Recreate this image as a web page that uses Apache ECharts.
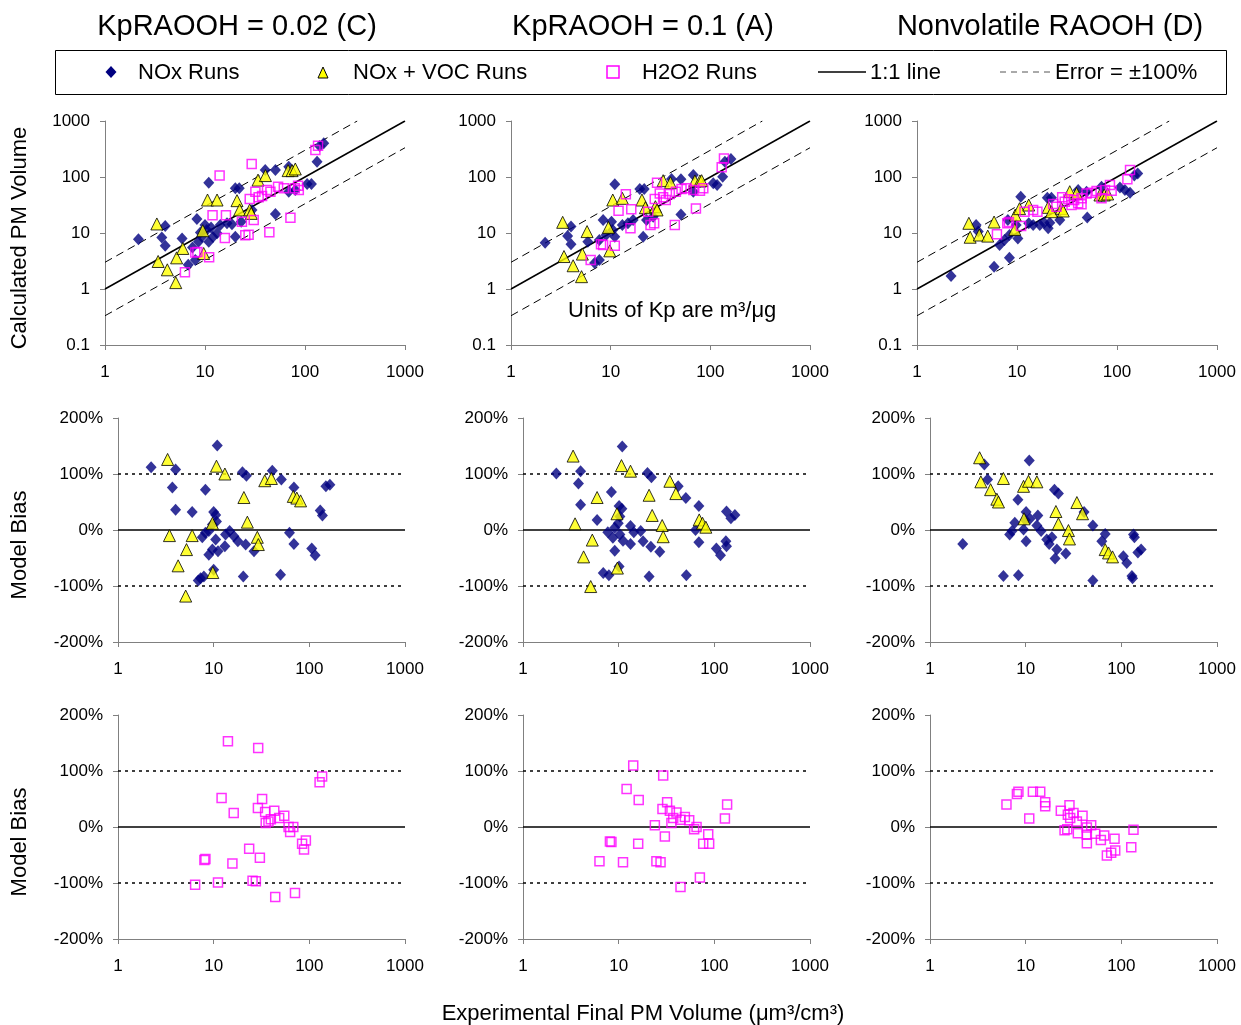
<!DOCTYPE html>
<html>
<head>
<meta charset="utf-8">
<script src="https://cdn.jsdelivr.net/npm/echarts@6/dist/echarts.min.js"></script>
<style>
  html, body { margin: 0; padding: 0; background: #fff; }
  #main { width: 1241px; height: 1025px; }
</style>
</head>
<body>
<div id="main"></div>
<script>
// column headings and axis ticks
var colTitles = ['KpRAOOH = 0.02 (C)', 'KpRAOOH = 0.1 (A)', 'Nonvolatile RAOOH (D)'];
var xTicks = [1, 10, 100, 1000];
var pmTicks = [0.1, 1, 10, 100, 1000];
var biasTicks = [-200, -100, 0, 100, 200];

// reference lines
var oneToOne = [[1, 1], [1000, 1000]];
var errHigh = [[1, 3], [333, 1000]];
var errLow = [[1, 0.333], [1000, 333]];
var biasZero = [[1, 0], [1000, 0]];
var biasHigh = [[1, 100], [1000, 100]];
var biasLow = [[1, -100], [1000, -100]];

// ---- KpRAOOH = 0.02 (C) ----  [experimental, calculated]
var noxC = [[2.16,7.7],[3.7,8.3],[4.0,13.3],[4.0,5.9],[5.9,8.0],[8.3,17.8],[10.9,79],[10,13.9],[6.8,2.7],[8.0,3.3],
  [8.6,7.0],[9.3,8.6],[10.4,11.3],[10.9,7.0],[13.2,9.9],[14.2,13.9],[16.6,14.9],[18.6,14.3],[20.1,8.6],[20.1,62.8],
  [22,62.8],[23,15.9],[29.5,25.7],[40,133],[50.6,133],[50.6,21.8],[68.8,153],[68.8,54.7],[80,58.6],[105,75],
  [116,75],[132,188],[154,399],[140,358],[7.5,5.5],[9.0,10.2],[11.5,12.5],[12,8.5]];
var vocC = [[3.3,14.5],[3.4,3.1],[4.2,2.2],[5.1,1.3],[5.2,3.6],[6.0,5.3],[9.7,4.3],[9.5,11.0],[10.6,38.8],[13.2,38.8],
  [20.9,37.8],[22.2,25.8],[28,25.8],[29,22.4],[33.9,88],[40.2,106],[67.8,130],[74.3,130],[80,139]];
var h2o2C = [[6.3,2.0],[8.0,4.5],[8.4,4.6],[11.0,3.7],[11.9,20.7],[14,106],[15.8,8.1],[16.2,20.7],[23.4,15.9],[25.3,9.1],
  [27.3,9.3],[28,40.5],[29.3,171],[30.7,17.1],[31.9,54.7],[34.4,43.4],[37.2,45.8],[41.7,58.6],[45.1,54.7],[44,10.3],
  [53.8,67.2],[61.4,62.8],[71.5,18.8],[79,62.8],[86.7,58.6],[85.3,70],[127,303],[135,363]];
// [experimental, bias %]
var biasNoxC = [[2.22,112],[4.0,108],[3.7,76],[4.0,36],[5.96,32],[8.2,72],[10.9,151],[10.0,32],[10.5,27],[10.7,15],
  [9.7,10],[8.9,-2],[8.2,-5],[7.6,-13],[10.5,-17],[8.9,-44],[9.7,-35],[11.1,-38],[13.1,-29],[13.3,-8],
  [14.7,-2],[16.3,-11],[17.9,-20],[21.6,-26],[26.4,-38],[20,103],[22,97],[20.4,-83],[10,-71],[7.9,-83],
  [6.9,-90],[7.3,-86],[41,106],[51,90],[69,76],[62,-5],[69,-25],[50,-80],[106,-33],[115,-45],
  [130,35],[137,26],[149,78],[164,81]];
var biasVocC = [[3.3,126],[3.45,-10],[4.25,-64],[5.1,-118],[5.2,-35],[5.96,-10],[9.7,12],[9.8,-76],[10.7,114],[13.1,100],
  [20.7,58],[22.5,14],[28.6,-13],[29.3,-26],[34.2,88],[40.1,92],[68,60],[74,57],[81,52]];
var biasH2o2C = [[14.1,153],[29.2,141],[136,90],[128,80],[12.1,52],[32.1,50],[16.2,25],[29,34],[34.5,27],[43,29],
  [54.7,20],[48.4,16],[39.6,14],[37.4,10],[35,7],[60.7,0],[68,0],[63,-9],[92,-24],[84,-30],
  [88,-40],[23.5,-39],[30.4,-55],[15.7,-65],[8.2,-57],[8.0,-59],[6.4,-103],[11.1,-99],[25.5,-96],[27.6,-97],
  [44,-125],[70.8,-118]];

// ---- KpRAOOH = 0.1 (A) ----
var noxA = [[2.2,6.7],[3.7,8.8],[4.0,13],[4.0,6.3],[5.9,7.0],[6.9,2.9],[7.7,3.3],[8.4,17],[11,74],[7.7,7.5],
  [9.0,9.2],[10.2,15.9],[10.5,11.3],[11,8.6],[13.1,13.9],[14.9,14.9],[16.8,17],[19.6,61],[21.7,61],[21.2,8.6],
  [22.9,17],[26.7,19.6],[40.8,92],[50.7,91],[50.7,21.5],[67.5,109],[67.5,54.7],[107,77],[117,72],[133,101],
  [161,209],[140,188]];
var vocA = [[3.3,15.5],[3.4,3.8],[4.2,2.6],[5.1,1.66],[5.2,4.2],[5.8,10.6],[9.5,12.6],[9.8,4.8],[10.5,38.8],[13.1,41.6],
  [20.6,38.8],[22.3,28.3],[28.1,29.5],[29.2,25.8],[33.6,86],[39.8,79],[70,85],[78.7,85],[81.8,86]];
var h2o2A = [[6.3,3.3],[8.0,6.3],[8.4,6.1],[11,5.9],[12,25],[14.2,49],[15.8,12.1],[16.1,26.5],[23.8,24],[25.1,13.9],
  [27.3,14.9],[27.7,40.5],[29.2,79],[31.1,51],[33.6,43.4],[35.7,38.8],[39.2,49.7],[44,13.9],[45.1,54.7],[51.4,61],
  [57.8,63],[67.5,58.6],[71.7,27.5],[78.7,57],[85,63],[130,149],[137,215]];
var biasNoxA = [[2.23,101],[4.0,105],[3.8,83],[4.0,45],[5.95,18],[8.4,68],[10.9,149],[10.1,43],[10.8,38],[10.3,24],
  [9.9,12],[9.1,4],[7.7,-4],[8.7,-14],[10.3,-8],[11.1,-19],[9.1,-37],[13.3,-25],[13.3,7],[14.4,-4],
  [17,-2],[18,-20],[21.7,-30],[26.9,-39],[20,102],[22,94],[20.8,-83],[10.1,-65],[7.9,-81],[6.9,-77],
  [41.9,78],[50.4,57],[68.9,43],[63.6,0],[68.9,-22],[51,-81],[105,-33],[116,-45],[132,-20],[134,-29],
  [134,33],[149,21],[164,27]];
var biasVocA = [[3.34,132],[3.5,11],[4.3,-48],[5.1,-101],[5.3,-18],[5.95,58],[9.6,29],[9.7,-68],[10.7,115],[13.3,105],
  [20.8,62],[22.4,26],[28.5,8],[29.2,-12],[34.3,87],[39.6,65],[69.5,18],[75.3,12],[81.5,5]];
var biasH2o2A = [[14.2,110],[29.2,92],[12.1,68],[16.2,48],[32.1,44],[28.7,32],[34.3,29],[40.2,26],[49.2,18],[54.6,12],
  [44.3,13],[37.2,16],[35.6,7],[23.9,3],[65.2,0],[61.5,-4],[136,40],[129,15],[86.3,-13],[76.5,-30],
  [88.3,-30],[30.4,-17],[16,-30],[8.1,-26],[8.4,-27],[6.3,-61],[11.1,-63],[24.8,-61],[27.4,-63],[70.6,-90],
  [44.3,-107]];

// ---- Nonvolatile RAOOH (D) ----
var noxD = [[2.19,1.7],[5.9,2.5],[8.4,3.6],[6.7,6.1],[7.5,7.5],[8.4,9.2],[10.2,8.0],[9.8,13.9],[8.1,17],[3.9,13.9],
  [10.9,44.6],[13.1,14.9],[14.5,13.9],[16.9,13.9],[18.7,15.3],[20.5,12.1],[21.3,15.3],[20.1,42.8],[22.1,42.8],[26.8,17],
  [40.9,58.6],[49.6,54.7],[50.4,19],[70,67],[70,46],[107,65],[120,58.6],[135,52.5],[161,116],[149,106],
  [4.1,10.6]];
var vocD = [[3.3,14.9],[3.4,8.4],[4.2,9.2],[5.1,8.8],[5.9,15.7],[9.5,11.6],[9.6,20.9],[10.6,27.2],[13.1,31.6],[20.5,28.7],
  [22.1,24],[27.8,27.5],[29,24.7],[33.7,54.7],[39.4,51],[67.5,47.7],[74.6,47.7],[80.6,49.7]];
var h2o2D = [[6.3,9.5],[8.0,14.9],[8.3,15.7],[11,13.3],[11.9,24],[14.5,25.8],[16,24],[23,33],[24.8,29.5],[28.3,43.4],
  [30,36.3],[32.5,39.9],[35.1,31.6],[37.3,38.8],[40.9,33.9],[44.2,32.5],[44.2,41.6],[49.6,51],[55.7,52.5],[62.5,56.2],
  [70,41.6],[75.8,58.6],[85,72],[88.4,57],[127,91],[135,133]];
var biasNoxD = [[2.2,-25],[3.7,117],[4.0,90],[5.85,-82],[8.4,-81],[8.3,54],[10.9,124],[10.1,32],[9.9,18],[11.1,20],
  [7.7,13],[7.2,-2],[6.8,-8],[9.5,1],[10.1,-20],[13.4,26],[13.1,8],[14.5,-2],[16.6,-17],[17.6,-25],
  [18.8,-13],[21.2,-35],[20.3,-51],[26.3,-42],[20,72],[22,65],[40.8,32],[50.4,8],[67.8,-7],[62.5,-20],
  [50.4,-90],[105,-47],[114,-59],[129,-82],[131,-86],[134,-8],[137,-13],[149,-40],[161,-35]];
var biasVocD = [[3.3,129],[3.4,86],[4.3,72],[5.0,55],[5.2,50],[5.85,92],[9.5,78],[10.7,87],[13.1,86],[9.6,20],
  [20.7,33],[22,11],[28,-1],[28.7,-16],[34.3,49],[39.3,29],[67.8,-35],[73.5,-41],[80.9,-48]];
var biasH2o2D = [[6.3,40],[8.1,59],[8.4,63],[10.9,15],[11.9,63],[14.2,63],[16,44],[16,37],[23.3,29],[28.7,39],
  [27.6,22],[31.6,25],[29.2,16],[34.3,10],[39.3,20],[25.5,-6],[27.2,-4],[35.1,-11],[43.6,-1],[48.4,3],
  [43.6,-14],[43.6,-29],[53.3,-12],[61.1,-23],[66.2,-15],[84.9,-21],[86.3,-42],[78.3,-46],[70.6,-51],[127,-36],
  [134,-5]];

var FONT = 'Liberation Sans, Arial, sans-serif';
var AXIS_COLOR = '#808080';

var panels = [
  { nox: noxC, voc: vocC, h2o2: h2o2C, bNox: biasNoxC, bVoc: biasVocC, bH2o2: biasH2o2C },
  { nox: noxA, voc: vocA, h2o2: h2o2A, bNox: biasNoxA, bVoc: biasVocA, bH2o2: biasH2o2A },
  { nox: noxD, voc: vocD, h2o2: h2o2D, bNox: biasNoxD, bVoc: biasVocD, bH2o2: biasH2o2D }
];

// pixel layout of the 3x3 grid
var pmLefts = [105, 511, 917];
var biasLefts = [118, 523, 930];
var rowTops = [121, 418, 715];
var RIGHT_EDGE = [405, 810, 1217];
var PANEL_H = 224;

var grids = [], xAxes = [], yAxes = [], series = [];

function fmtNum(v) {
  return v < 1 ? v.toFixed(1) : String(Math.round(v));
}

function addGrid(left, top, right, isPm) {
  var idx = grids.length;
  grids.push({ left: left, top: top, width: right - left, height: PANEL_H });
  xAxes.push({
    type: 'log', logBase: 10, min: xTicks[0], max: xTicks[xTicks.length - 1], gridIndex: idx,
    axisLine: { onZero: false, lineStyle: { color: AXIS_COLOR, width: 1 } },
    axisTick: { length: 5, lineStyle: { color: AXIS_COLOR } },
    axisLabel: { fontSize: 17, color: '#000', fontFamily: FONT, margin: 19, formatter: fmtNum },
    splitLine: { show: false }
  });
  if (isPm) {
    yAxes.push({
      type: 'log', logBase: 10, min: pmTicks[0], max: pmTicks[pmTicks.length - 1], gridIndex: idx,
      axisLine: { onZero: false, lineStyle: { color: AXIS_COLOR, width: 1 } },
      axisTick: { length: 5, lineStyle: { color: AXIS_COLOR } },
      axisLabel: { fontSize: 17, color: '#000', fontFamily: FONT, margin: 15, formatter: fmtNum },
      splitLine: { show: false }
    });
  } else {
    yAxes.push({
      type: 'value', min: biasTicks[0], max: biasTicks[biasTicks.length - 1], interval: 100, gridIndex: idx,
      axisLine: { onZero: false, lineStyle: { color: AXIS_COLOR, width: 1 } },
      axisTick: { length: 5, lineStyle: { color: AXIS_COLOR } },
      axisLabel: { fontSize: 17, color: '#000', fontFamily: FONT, margin: 15, formatter: '{value}%' },
      splitLine: { show: false }
    });
  }
  return idx;
}

function refLine(idx, data, type, width) {
  series.push({
    type: 'line', xAxisIndex: idx, yAxisIndex: idx, data: data, symbol: 'none', silent: true, z: 1,
    lineStyle: { color: '#000', width: width, type: type }
  });
}

function noxSeries(idx, data) {
  series.push({
    name: 'NOx Runs', type: 'scatter', xAxisIndex: idx, yAxisIndex: idx, data: data, z: 3,
    symbol: 'diamond', symbolSize: [11, 12], itemStyle: { color: '#000080' }
  });
}
function vocSeries(idx, data) {
  series.push({
    name: 'NOx + VOC Runs', type: 'scatter', xAxisIndex: idx, yAxisIndex: idx, data: data, z: 4,
    symbol: 'triangle', symbolSize: 12,
    itemStyle: { color: '#FFFF00', borderColor: '#000', borderWidth: 1 }
  });
}
function h2o2Series(idx, data) {
  series.push({
    name: 'H2O2 Runs', type: 'scatter', xAxisIndex: idx, yAxisIndex: idx, data: data, z: 5,
    symbol: 'rect', symbolSize: 9,
    itemStyle: { color: 'rgba(255,255,255,0)', borderColor: '#FF00FF', borderWidth: 1.5 }
  });
}

panels.forEach(function (p, c) {
  // calculated vs experimental
  var g = addGrid(pmLefts[c], rowTops[0], RIGHT_EDGE[c], true);
  refLine(g, oneToOne, 'solid', 1.5);
  refLine(g, errHigh, [8, 5], 1);
  refLine(g, errLow, [8, 5], 1);
  noxSeries(g, p.nox);
  vocSeries(g, p.voc);
  h2o2Series(g, p.h2o2);

  // bias: NOx and NOx+VOC
  g = addGrid(biasLefts[c], rowTops[1], RIGHT_EDGE[c], false);
  refLine(g, biasZero, 'solid', 1.5);
  refLine(g, biasHigh, [3, 4], 1.5);
  refLine(g, biasLow, [3, 4], 1.5);
  noxSeries(g, p.bNox);
  vocSeries(g, p.bVoc);

  // bias: H2O2
  g = addGrid(biasLefts[c], rowTops[2], RIGHT_EDGE[c], false);
  refLine(g, biasZero, 'solid', 1.5);
  refLine(g, biasHigh, [3, 4], 1.5);
  refLine(g, biasLow, [3, 4], 1.5);
  h2o2Series(g, p.bH2o2);
});

var titleCenters = [237, 643, 1050];
var titles = colTitles.map(function (t, i) {
  return {
    text: t, left: titleCenters[i], top: 12, textAlign: 'center', padding: 0,
    textStyle: { fontSize: 29, fontWeight: 'normal', color: '#000', fontFamily: FONT }
  };
});

var txt = function (text, x, y, extra) {
  var s = { text: text, x: x, y: y, font: '22px ' + FONT, fill: '#000', align: 'left', verticalAlign: 'middle' };
  for (var k in extra) s[k] = extra[k];
  return { type: 'text', style: s, z: 10 };
};
var vtxt = function (text, x, y) {
  return { type: 'text', x: x, y: y, rotation: Math.PI / 2, z: 10,
    style: { text: text, x: 0, y: 0, font: '22px ' + FONT, fill: '#000', align: 'center', verticalAlign: 'middle' } };
};

var graphics = [
  // legend box
  { type: 'rect', shape: { x: 55.5, y: 50.5, width: 1171, height: 44 },
    style: { fill: 'none', stroke: '#000', lineWidth: 1 }, z: 10 },
  { type: 'polygon', shape: { points: [[111, 66], [116.5, 72], [111, 78], [105.5, 72]] },
    style: { fill: '#000080' }, z: 10 },
  txt('NOx Runs', 138, 73),
  { type: 'polygon', shape: { points: [[323, 67], [328, 78], [318, 78]] },
    style: { fill: '#FFFF00', stroke: '#000', lineWidth: 1 }, z: 10 },
  txt('NOx + VOC Runs', 353, 73),
  { type: 'rect', shape: { x: 607, y: 66, width: 12, height: 12 },
    style: { fill: 'none', stroke: '#FF00FF', lineWidth: 1.5 }, z: 10 },
  txt('H2O2 Runs', 642, 73),
  { type: 'line', shape: { x1: 818, y1: 72, x2: 866, y2: 72 },
    style: { stroke: '#000', lineWidth: 1.5 }, z: 10 },
  txt('1:1 line', 870, 73),
  { type: 'line', shape: { x1: 1000, y1: 72, x2: 1052, y2: 72 },
    style: { stroke: '#555', lineWidth: 1, lineDash: [6, 5] }, z: 10 },
  txt('Error = ±100%', 1055, 73),
  // axis titles
  vtxt('Calculated PM Volume', 20, 238),
  vtxt('Model Bias', 20, 545),
  vtxt('Model Bias', 20, 842),
  txt('Experimental Final PM Volume (μm³/cm³)', 643, 1014, { align: 'center' }),
  txt('Units of Kp are m³/μg', 568, 311)
];

var chart = echarts.init(document.getElementById('main'));
chart.setOption({
  animation: false,
  backgroundColor: '#fff',
  title: titles,
  grid: grids,
  xAxis: xAxes,
  yAxis: yAxes,
  series: series,
  graphic: graphics
});
</script>
</body>
</html>
